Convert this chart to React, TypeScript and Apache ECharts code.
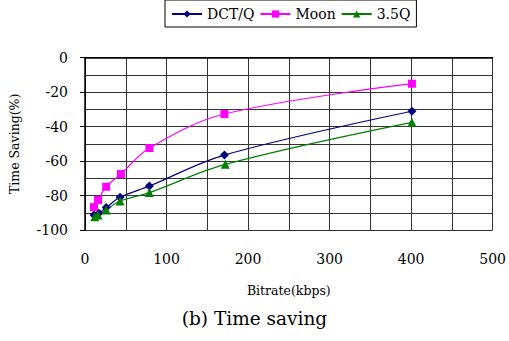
import React, { useEffect, useRef } from "react";
import * as echarts from "echarts";

const bitrateDCT = [11, 17, 26, 43, 79, 171, 401];
const dctq = [-91.3, -90.3, -87, -81, -74.5, -56.5, -31.1];
const bitrateMoon = [11, 16, 26, 44, 79, 171, 401];
const moon = [-86.7, -82.6, -74.9, -67.5, -52.4, -32.7, -15.1];
const bitrate35 = [12, 16, 26, 43, 79, 172, 401];
const q35 = [-92.3, -91.3, -88.4, -83.2, -78.3, -61.9, -37.5];

const xTitle = "Bitrate(kbps)";
const yTitle = "Time Saving(%)";
const caption = "(b) Time saving";

const FONT = "DejaVu Serif";

function pairs(xs: number[], ys: number[]) {
  return xs.map((x, i) => [x, ys[i]]);
}

export default function App() {
  const ref = useRef<HTMLDivElement>(null);
  useEffect(() => {
    const chart = echarts.init(ref.current!, null, { renderer: "svg" });
    const lineSeries = (name: string, data: number[][], color: string, symbol: string, size: number) => ({
      name,
      type: "line",
      data,
      smooth: 0.35,
      symbol,
      symbolSize: size,
      lineStyle: { color, width: 1.2 },
      itemStyle: { color },
    });
    chart.setOption({
      animation: false,
      backgroundColor: "#ffffff",
      textStyle: { fontFamily: FONT },
      legend: {
        top: 0,
        left: 165,
        itemGap: 5,
        itemWidth: 30,
        itemHeight: 9,
        padding: [7, 6, 6, 6],
        borderColor: "#000",
        borderWidth: 1,
        textStyle: { fontFamily: FONT, fontSize: 14, color: "#000" },
        data: ["DCT/Q", "Moon", "3.5Q"],
      },
      grid: { left: 84, right: 13, top: 57.7, bottom: 111, containLabel: false },
      xAxis: {
        type: "value",
        min: 0,
        max: 500,
        interval: 100,
        name: xTitle,
        nameLocation: "middle",
        nameGap: 54,
        nameTextStyle: { fontFamily: FONT, fontSize: 12.5, color: "#000" },
        axisLine: { show: true, lineStyle: { color: "#000", width: 1.5 } },
        axisTick: { show: false },
        axisLabel: { fontFamily: FONT, fontSize: 14, color: "#000", margin: 22 },
        splitLine: { show: true, lineStyle: { color: "#333", width: 1 } },
        minorTick: { show: false, splitNumber: 2 },
        minorSplitLine: { show: true, lineStyle: { color: "#333", width: 1 } },
      },
      yAxis: {
        type: "value",
        min: -100,
        max: 0,
        interval: 20,
        name: yTitle,
        nameLocation: "middle",
        nameGap: 64,
        nameRotate: 90,
        nameTextStyle: { fontFamily: FONT, fontSize: 12.5, color: "#000" },
        axisLine: { show: true, lineStyle: { color: "#000", width: 1.5 } },
        axisTick: { show: true, inside: false, length: 5, lineStyle: { color: "#000" } },
        axisLabel: { fontFamily: FONT, fontSize: 14, color: "#000", margin: 17 },
        splitLine: { show: true, lineStyle: { color: "#333", width: 1 } },
        minorTick: { show: false, splitNumber: 2 },
        minorSplitLine: { show: true, lineStyle: { color: "#333", width: 1 } },
      },
      graphic: [
        {
          type: "text",
          left: "center",
          top: 309,
          style: { text: caption, fontFamily: FONT, fontSize: 18.5, fill: "#000" },
        },
      ],
      series: [
        lineSeries("DCT/Q", pairs(bitrateDCT, dctq), "#000080", "diamond", 9),
        lineSeries("Moon", pairs(bitrateMoon, moon), "#ff00ff", "rect", 8),
        lineSeries("3.5Q", pairs(bitrate35, q35), "#008000", "triangle", 9),
      ],
    });
    return () => chart.dispose();
  }, []);
  return <div ref={ref} style={{ width: 509, height: 341, position: "absolute", left: 0, top: 0 }} />;
}
